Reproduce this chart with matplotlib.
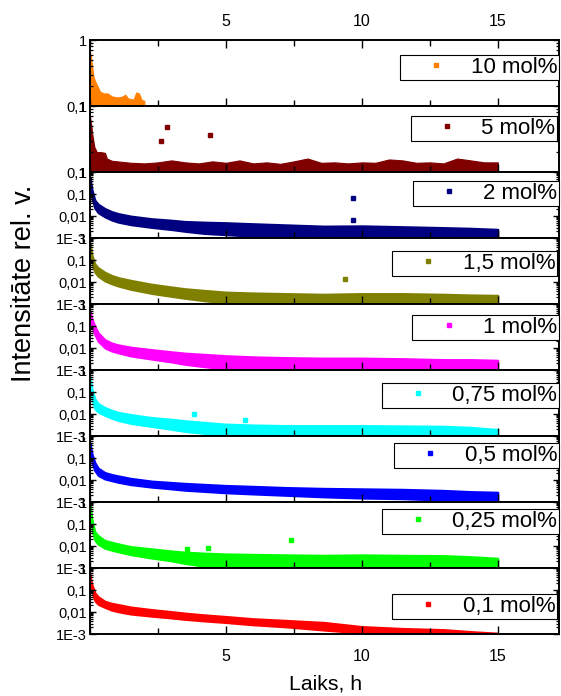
import matplotlib
matplotlib.use("Agg")
import matplotlib.pyplot as plt
from matplotlib.lines import Line2D
from matplotlib.ticker import LogLocator, NullFormatter, FixedLocator, FixedFormatter, MultipleLocator

plt.rcParams['font.family'] = ['Liberation Sans', 'DejaVu Sans']

# ---------------- data ----------------
names = ['10 mol%', '5 mol%', '2 mol%', '1,5 mol%', '1 mol%',
         '0,75 mol%', '0,5 mol%', '0,25 mol%', '0,1 mol%']
colors = ['#FF8000', '#800000', '#000080', '#808000', '#FF00FF',
          '#00FFFF', '#0000FF', '#00FF00', '#FF0000']

# 10 mol% upper edge (points fill down below 0.1)
t10 = [0, 0.04, 0.08, 0.12, 0.18, 0.25, 0.37, 0.5, 0.65, 0.8, 1.0, 1.15,
       1.3, 1.4, 1.5, 1.6, 1.7, 1.8, 1.9, 2.0]
up10 = [0.66, 0.55, 0.4, 0.29, 0.24, 0.21, 0.165, 0.155, 0.155, 0.14, 0.135,
        0.137, 0.148, 0.13, 0.128, 0.125, 0.16, 0.155, 0.123, 0.12]

# 5 mol% upper edge
t5 = [0, 0.05, 0.09, 0.16, 0.25, 0.4, 0.55, 0.62, 0.8, 1.0,
      1.5, 2.0, 2.5, 3.0, 3.5, 4.0, 4.5, 5.0, 5.5, 6.0, 6.5, 7.0, 7.5, 8.0,
      8.5, 9.0, 9.5, 10.0, 10.5, 11.0, 11.5, 12.0, 12.5, 13.0, 13.5, 14.0,
      14.5, 15.0]
up5 = [0.69, 0.5, 0.36, 0.24, 0.2, 0.2, 0.195, 0.16, 0.148, 0.145,
       0.138, 0.135, 0.14, 0.15, 0.14, 0.135, 0.145, 0.138, 0.15, 0.135,
       0.14, 0.133, 0.145, 0.16, 0.138, 0.14, 0.135, 0.14, 0.138, 0.155,
       0.15, 0.138, 0.14, 0.135, 0.16, 0.15, 0.14, 0.14]

# common time grid for the other series
tb = [0, 0.03, 0.08, 0.18, 0.3, 0.55, 0.8, 1.04, 1.5, 2.27, 3.0, 3.49,
      4.2, 5.0, 6.0, 7.2, 8.6, 10.0, 11.5, 13.0, 14.0, 15.0]

up2 = [0.6, 0.35, 0.15, 0.053, 0.035, 0.022, 0.016, 0.013, 0.01, 0.0076,
       0.0065, 0.0057, 0.0053, 0.005, 0.0045, 0.004, 0.0035, 0.0036, 0.0033,
       0.003, 0.0028, 0.0025]
lo2 = [0.25, 0.12, 0.055, 0.022, 0.014, 0.009, 0.0065, 0.0052, 0.004,
       0.003, 0.0024, 0.002, 0.0016, 0.0014, 0.0012, 0.0011, 0.001,
       0.0009, 0.0009, 0.0009, 0.0009, 0.0009]

up15 = [0.56, 0.35, 0.16, 0.067, 0.045, 0.028, 0.02, 0.016, 0.012, 0.008,
        0.006, 0.005, 0.0042, 0.0035, 0.0032, 0.003, 0.0028, 0.003, 0.003,
        0.0028, 0.0026, 0.0025]
lo15 = [0.25, 0.14, 0.065, 0.027, 0.018, 0.011, 0.0082, 0.0065, 0.0046,
        0.003, 0.0022, 0.0018, 0.0014, 0.0011, 0.0009, 0.0009, 0.0009,
        0.0009, 0.0009, 0.0009, 0.0009, 0.0009]

up1 = [0.5, 0.35, 0.2, 0.1, 0.05, 0.024, 0.017, 0.014, 0.011, 0.0085,
       0.0068, 0.0059, 0.0052, 0.0045, 0.004, 0.0037, 0.0035, 0.0035,
       0.0033, 0.003, 0.003, 0.0028]
lo1 = [0.22, 0.14, 0.08, 0.04, 0.02, 0.01, 0.0072, 0.006, 0.0043, 0.0031,
       0.0023, 0.0018, 0.0014, 0.0011, 0.001, 0.0009, 0.0009, 0.0009,
       0.0009, 0.0009, 0.0009, 0.0009]

up075 = [0.5, 0.3, 0.13, 0.05, 0.03, 0.02, 0.015, 0.012, 0.0095, 0.007,
         0.0058, 0.005, 0.0042, 0.0035, 0.0032, 0.003, 0.003, 0.003,
         0.0029, 0.0028, 0.0025, 0.002]
lo075 = [0.22, 0.1, 0.04, 0.017, 0.012, 0.0085, 0.0064, 0.005, 0.0037,
         0.0027, 0.002, 0.0016, 0.0013, 0.0011, 0.001, 0.0009, 0.0009,
         0.0009, 0.0009, 0.0009, 0.0009, 0.0009]

up05 = [0.5, 0.3, 0.15, 0.063, 0.035, 0.022, 0.018, 0.0155, 0.012, 0.009,
        0.0078, 0.0071, 0.0064, 0.0057, 0.0052, 0.0046, 0.0042, 0.004,
        0.0038, 0.0034, 0.003, 0.0028]
lo05 = [0.22, 0.12, 0.055, 0.026, 0.016, 0.011, 0.0092, 0.0078, 0.0061,
        0.0047, 0.0039, 0.0034, 0.003, 0.0026, 0.0023, 0.002, 0.0017,
        0.0015, 0.0014, 0.0012, 0.0011, 0.0011]

up025 = [0.9, 0.4, 0.15, 0.045, 0.03, 0.018, 0.015, 0.0126, 0.0095,
         0.0075, 0.006, 0.0053, 0.0048, 0.0044, 0.0042, 0.004, 0.0038,
         0.004, 0.0038, 0.0037, 0.0033, 0.0028]
lo025 = [0.4, 0.17, 0.05, 0.018, 0.012, 0.0078, 0.0064, 0.0054, 0.004,
         0.0028, 0.0021, 0.0016, 0.0012, 0.001, 0.0009, 0.0009, 0.0009,
         0.0009, 0.0009, 0.0009, 0.0009, 0.0009]

up01 = [0.53, 0.3, 0.17, 0.076, 0.05, 0.031, 0.025, 0.022, 0.017, 0.013,
        0.0105, 0.009, 0.0075, 0.0063, 0.005, 0.0042, 0.0034, 0.0022,
        0.0018, 0.0016, 0.0013, 0.0011]
lo01 = [0.26, 0.15, 0.075, 0.032, 0.022, 0.016, 0.012, 0.0102, 0.008,
        0.0064, 0.0053, 0.0046, 0.0039, 0.0033, 0.0026, 0.0021, 0.0015,
        0.0011, 0.0009, 0.0009, 0.0009, 0.0009]

# isolated points (outliers)
out5_t, out5_v = [2.61, 2.83, 4.41], [0.30, 0.485, 0.364]
out2_t, out2_v = [9.68, 9.68], [0.068, 0.0066]
out15_t, out15_v = [9.39], [0.013]
out075_t, out075_v = [3.84, 5.7], [0.01, 0.0055]
out025_t, out025_v = [3.55, 4.33, 7.41], [0.0075, 0.0078, 0.018]

y_ticks_full = [1, 0.1, 0.01, 0.001]
y_labels_full = ['1', '0,1', '0,01', '1E-3']
y_ticks_short = [1, 0.1]
y_labels_short = ['1', '0,1']
x_major = [5, 10, 15]
x_labels = ['5', '10', '15']

# ---------------- figure ----------------
W, H = 561, 696
fig = plt.figure(figsize=(W / 100, H / 100), dpi=100)
gs = fig.add_gridspec(9, 1, left=90 / W, right=559 / W, top=1 - 40 / H,
                      bottom=1 - 634 / H, hspace=0)
axes = [fig.add_subplot(gs[i, 0]) for i in range(9)]

series = [
    (t10, up10, None, None, None),
    (t5, up5, None, out5_t, out5_v),
    (tb, up2, lo2, out2_t, out2_v),
    (tb, up15, lo15, out15_t, out15_v),
    (tb, up1, lo1, None, None),
    (tb, up075, lo075, out075_t, out075_v),
    (tb, up05, lo05, None, None),
    (tb, up025, lo025, out025_t, out025_v),
    (tb, up01, lo01, None, None),
]

legend_pos = [(559, 55), (557, 116), (559, 181), (557, 251), (559, 315),
              (559, 383), (559, 443), (559, 509), (557, 594)]

for i, ax in enumerate(axes):
    t, up, lo, ot, ov = series[i]
    col = colors[i]
    ax.set_yscale('log')
    if i < 2:
        ax.set_ylim(0.1, 1)
        lower = [0.05] * len(t)
        ax.fill_between(t, lower, up, color=col, lw=0.8, edgecolor=col)
        ax.yaxis.set_major_locator(FixedLocator(y_ticks_short))
        ax.yaxis.set_major_formatter(FixedFormatter(y_labels_short))
    else:
        ax.set_ylim(0.001, 1)
        ax.fill_between(t, lo, up, color=col, lw=1.4, edgecolor=col)
        ax.yaxis.set_major_locator(FixedLocator(y_ticks_full))
        ax.yaxis.set_major_formatter(FixedFormatter(y_labels_full))
    if ot is not None:
        ax.plot(ot, ov, ls='none', marker='s', ms=3.2, color=col, mec=col)
    ax.yaxis.set_minor_locator(LogLocator(base=10, subs=range(2, 10)))
    ax.yaxis.set_minor_formatter(NullFormatter())

    ax.set_xlim(0, 17.25)
    ax.xaxis.set_major_locator(FixedLocator(x_major))
    ax.xaxis.set_major_formatter(FixedFormatter(x_labels))
    ax.xaxis.set_minor_locator(MultipleLocator(2.5))

    for s in ax.spines.values():
        s.set_linewidth(1.4)
    ax.tick_params(axis='y', which='major', direction='in', length=4.5,
                   width=1.0, labelsize=10.5, pad=2, left=True, right=True)
    ax.tick_params(axis='y', which='minor', direction='in', length=2.5,
                   width=0.9, left=True, right=True)
    ax.tick_params(axis='x', which='major', direction='in', length=5.5,
                   width=1.0, labelsize=11.5)
    ax.tick_params(axis='x', which='minor', direction='in', length=4,
                   width=1.0)
    if i == 0:
        ax.tick_params(axis='x', which='both', top=True, bottom=True,
                       labeltop=True, labelbottom=False)
        ax.tick_params(axis='x', which='major', pad=8)
    elif i == 8:
        ax.tick_params(axis='x', which='both', top=False, bottom=True,
                       labeltop=False, labelbottom=True)
        ax.tick_params(axis='x', which='major', pad=10.5)
    else:
        ax.tick_params(axis='x', which='both', top=False, bottom=True,
                       labeltop=False, labelbottom=False)

    h = Line2D([], [], ls='none', marker='s', ms=3.5, color=col, mec=col)
    rx, ty = legend_pos[i]
    leg = ax.legend([h], [names[i]], loc='upper right',
                    bbox_to_anchor=(rx / W, 1 - ty / H),
                    bbox_transform=fig.transFigure, frameon=True,
                    fancybox=False, edgecolor='black', framealpha=1,
                    borderpad=0.08, handlelength=3.1, handletextpad=0.0,
                    fontsize=16, borderaxespad=0)
    leg.get_frame().set_linewidth(0.8)

fig.text(24 / W, 1 - 283 / H, 'Intensitāte rel. v.', rotation=90,
         ha='center', va='center', fontsize=19.5)
fig.text(326 / W, 1 - 684 / H, 'Laiks, h', ha='center', va='center',
         fontsize=15.3)

fig.savefig('out.png', dpi=100)
